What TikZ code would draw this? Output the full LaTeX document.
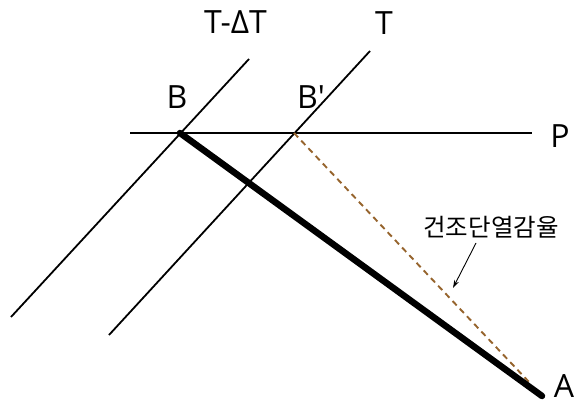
\documentclass[tikz,border=0pt]{standalone}
\usepackage{fontspec}
\setmainfont{Open Sans}
\newfontfamily\krfont{Noto Sans CJK KR}
\usetikzlibrary{arrows.meta}
\definecolor{dashbrown}{RGB}{150,100,45}
\tikzset{
  thinline/.style={line width=1.8pt, black},
  thickline/.style={line width=6.5pt, black},
  dashline/.style={line width=1.9pt, dashbrown, dash pattern=on 6pt off 4.5pt},
  lbl/.style={inner sep=0pt, font=\fontsize{32}{35}\selectfont},
  klbl/.style={inner sep=0pt, font=\krfont\fontsize{24.5}{27}\selectfont},
}
\begin{document}
\begin{tikzpicture}[x=1pt,y=-1pt]
\useasboundingbox (0,0) rectangle (578,404);
% coordinates
\coordinate (T1top) at (249,59);
\coordinate (T1bot) at (11,317);
\coordinate (T2top) at (370,51);
\coordinate (T2bot) at (109,335);
\coordinate (Pl) at (130,133);
\coordinate (Pr) at (532,133);
\coordinate (B) at (180,133);
\coordinate (Bp) at (294,133);
\coordinate (A) at (542,396);
\coordinate (Dend) at (529,382);
\coordinate (arrS) at (476,243);
\coordinate (arrE) at (453,288);
% lines
\draw[thinline] (T1bot) -- (T1top);
\draw[thinline] (T2bot) -- (T2top);
\draw[thinline] (Pl) -- (Pr);
\draw[dashline] (Bp) -- (Dend);
\draw[thickline, line cap=round] (B) -- (A);
% labels
\node[lbl] (lTdT) at (235.5,22) {T-ΔT};
\node[lbl] (lT) at (384,23.5) {T};
\node[lbl] (lB) at (177,97) {B};
\node[lbl] (lBp) at (311,97) {B\textquotesingle};
\node[lbl] (lP) at (560,136) {P};
\node[lbl] (lA) at (564,386) {A};
\node[klbl] (lK) at (491,227) {건조단열감율};
\draw[line width=0.9pt, -{Stealth[length=8pt,width=5pt]}] (arrS) -- (arrE);
\end{tikzpicture}
\end{document}
